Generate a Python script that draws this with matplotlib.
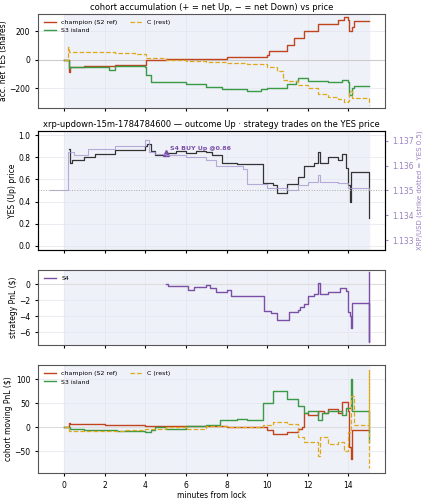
import matplotlib
matplotlib.use("Agg")
import matplotlib.pyplot as plt

champ_acc_t = [0,0.2,0.25,0.3,1,2,2.5,4,4.05,5,8,10,10.1,11,11.3,11.8,12.5,13.5,13.8,14,14.05,14.2,14.3,15]
champ_acc_v = [0,0,-90,-50,-45,-45,-40,-35,0,5,20,30,60,100,150,200,250,280,300,280,200,230,270,270]
s3_acc_t = [0,0.25,0.3,2,2.2,2.5,4,4.05,4.3,5,6,7,7.8,9,9.7,10,11,11.4,11.5,12,13,13.7,14,14.05,14.2,14.3,15]
s3_acc_v = [0,-60,-50,-55,-70,-45,-50,-110,-155,-160,-170,-190,-210,-220,-210,-200,-170,-150,-130,-150,-160,-140,-160,-250,-200,-185,-185]
c_acc_t = [0,0.2,0.25,1,2.5,3.5,4.05,5,6,7,8,9,10,10.5,10.8,11,11.5,12,12.5,13,13.5,13.8,14,14.05,14.2,15,15.02]
c_acc_v = [0,90,55,50,45,40,10,0,-10,-20,-25,-30,-50,-80,-140,-150,-180,-200,-240,-260,-280,-300,-290,-220,-270,-270,-320]

yes_t = [0.25,0.3,0.4,1,1.5,2,2.5,3,4,4.1,4.3,4.5,5,5.5,6,6.5,7,7.3,7.8,8.5,9,9.8,10.3,10.5,11,11.5,11.8,12.3,12.5,12.6,13,13.5,13.7,13.9,14,14.1,14.15,15,15.01,15.02]
yes_v = [0.88,0.75,0.78,0.8,0.83,0.83,0.87,0.87,0.9,0.92,0.86,0.82,0.84,0.86,0.84,0.86,0.85,0.82,0.75,0.74,0.74,0.57,0.55,0.48,0.56,0.62,0.72,0.75,0.85,0.75,0.8,0.78,0.83,0.7,0.55,0.4,0.67,0.67,0.35,0.25]
xrp_t = [-0.7,0.2,0.5,1.2,2.5,4.0,4.2,4.5,5,6,7,7.5,8.8,9,10,11,11.5,12,12.5,12.6,13.5,14,15]
xrp_v = [1.13500,1.13655,1.13642,1.13668,1.13677,1.13704,1.13655,1.13646,1.13642,1.13633,1.13624,1.13597,1.13588,1.13527,1.13509,1.13504,1.13522,1.13535,1.13562,1.13535,1.13531,1.13509,1.13504]
trade_t = [5.0]
trade_p = [0.84]
trade_label = "S4 BUY Up @0.86"
strike = 1.135

s4_t = [5,5.1,6,6.1,6.4,7,7.2,7.5,8,8.2,8.5,9,9.8,9.85,10.2,10.5,11,11.1,11.5,11.6,11.8,12,12.3,12.5,12.6,13,13.5,13.6,13.9,14,14.1,14.15,14.2,15,15.02,15.03]
s4_v = [0,-0.2,-0.2,-0.7,-0.3,-0.1,-0.4,-0.9,-0.7,-1.4,-1.5,-1.4,-1.4,-3.3,-3.6,-4.5,-4.5,-3.5,-3.2,-2.8,-2.5,-1.5,-1.2,0.2,-1.2,-1,-1,-0.5,-0.8,-3.5,-4,-5.5,-2.3,-2.3,-7.2,1.5]

champ_pnl_t = [0,0.25,0.3,1,2,3,4,5,7,8,9,9.8,10,10.3,11,11.5,11.7,11.8,12,12.5,12.8,13,13.5,13.7,14,14.05,14.15,14.2,15]
champ_pnl_v = [0,10,8,7,6,4,2,2,2,0,0,0,-5,-13,-10,-3,0,30,25,35,30,38,30,52,35,-40,-65,-5,-5]
s3_pnl_t = [0,0.3,1,2,2.6,4,4.3,4.5,5,6,7,7.7,8.3,8.5,9,9.8,10.3,11,11.5,11.8,12,12.5,12.7,13,13.5,13.7,13.9,14.15,14.2,15,15.02]
s3_pnl_v = [0,-3,-5,-6,-8,-10,-5,0,-3,3,5,15,15,18,15,50,75,60,45,30,35,15,30,35,35,25,40,100,35,35,-30]
c_pnl_t = [0,0.25,1,2,3,4,5,6,7,8,9,9.8,10.3,11,11.5,11.8,12.3,12.5,12.6,13,13.5,13.8,14,14.15,14.3,15,15.02,15.03]
c_pnl_v = [0,-8,-7,-8,-5,-3,0,-3,2,0,0,5,12,8,-20,-30,-30,-60,-20,-35,-30,-50,-10,65,5,5,120,-85]

RED, GREEN, GOLD, PURP = "#c0441f", "#3a9a45", "#e0a81c", "#7b4ea8"
plt.rcParams.update({"font.size": 5.5, "xtick.labelsize": 5.5, "ytick.labelsize": 5.5,
                     "xtick.major.size": 2, "ytick.major.size": 2})
fig = plt.figure(figsize=(4.23, 5.0), dpi=100)
L, W = 0.09, 0.82
axes = [fig.add_axes([L, 0.784, W, 0.188]),
        fig.add_axes([L, 0.50, W, 0.238]),
        fig.add_axes([L, 0.31, W, 0.15]),
        fig.add_axes([L, 0.054, W, 0.216])]
for a in axes:
    a.set_xlim(-1.28, 15.8)
    a.axvspan(0, 15, color="#eef1f8", zorder=0)
    a.grid(True, color="#e3e6ee", lw=0.5)
    a.set_xticks(range(0, 15, 2))
    for s in a.spines.values():
        s.set_color("#555555")
for a in axes[:3]:
    a.tick_params(labelbottom=False)

a = axes[0]
a.axhline(0, color="#cccccc", lw=0.8)
a.step(champ_acc_t, champ_acc_v, where="post", color=RED, lw=1.0, label="champion (S2 ref)")
a.step(s3_acc_t, s3_acc_v, where="post", color=GREEN, lw=1.0, label="S3 island")
a.step(c_acc_t, c_acc_v, where="post", color=GOLD, lw=0.9, ls="--", label="C (rest)")
a.set_ylabel("acc. net YES (shares)", labelpad=1)
a.set_title("cohort accumulation (+ = net Up, − = net Down) vs price", fontsize=6, pad=3)
a.legend(loc="upper left", ncol=2, fontsize=4.5, frameon=False)
a.set_ylim(-340, 320)
a.set_yticks([-200, 0, 200])

a = axes[1]
a.step(yes_t, yes_v, where="post", color="#333333", lw=0.9)
a.plot(trade_t, trade_p, marker="^", color=PURP, ms=5, ls="none")
a.annotate(trade_label, (trade_t[0], trade_p[0]), xytext=(3, 2), textcoords="offset points",
           color=PURP, fontsize=4.5, fontweight="bold")
a.set_ylim(-0.04, 1.04)
a.set_ylabel("YES (Up) price", labelpad=1)
a.set_title("xrp-updown-15m-1784784600 — outcome Up · strategy trades on the YES price", fontsize=6, pad=3)
t = a.twinx()
t.step(xrp_t, xrp_v, where="post", color="#a998d0", lw=0.8, alpha=0.8)
t.axhline(strike, color="#aaaaaa", lw=0.7, ls=":")
t.set_ylim(1.13261, 1.13739)
t.set_yticks([1.133, 1.134, 1.135, 1.136, 1.137])
t.tick_params(colors="#9a80c0", labelsize=5.5)
t.set_ylabel("XRP/USD (strike dotted = YES 0.5)", color="#9a80c0", fontsize=5, labelpad=2)

a = axes[2]
a.axhline(0, color="#dddddd", lw=0.8)
a.step(s4_t, s4_v, where="post", color=PURP, lw=1.0, label="S4")
a.set_ylabel("strategy PnL ($)", labelpad=1)
a.set_ylim(-7.6, 1.8)
a.set_yticks([0, -2, -4, -6])
a.legend(loc="upper left", fontsize=4.5, frameon=False)

a = axes[3]
a.axhline(0, color="#dddddd", lw=0.8)
a.step(champ_pnl_t, champ_pnl_v, where="post", color=RED, lw=1.0, label="champion (S2 ref)")
a.step(s3_pnl_t, s3_pnl_v, where="post", color=GREEN, lw=1.0, label="S3 island")
a.step(c_pnl_t, c_pnl_v, where="post", color=GOLD, lw=0.9, ls="--", label="C (rest)")
a.set_ylabel("cohort moving PnL ($)", labelpad=1)
a.set_xlabel("minutes from lock", labelpad=1)
a.set_ylim(-95, 130)
a.set_yticks([-50, 0, 50, 100])
a.legend(loc="upper left", ncol=2, fontsize=4.5, frameon=False)

fig.savefig("out.png", dpi=100)
